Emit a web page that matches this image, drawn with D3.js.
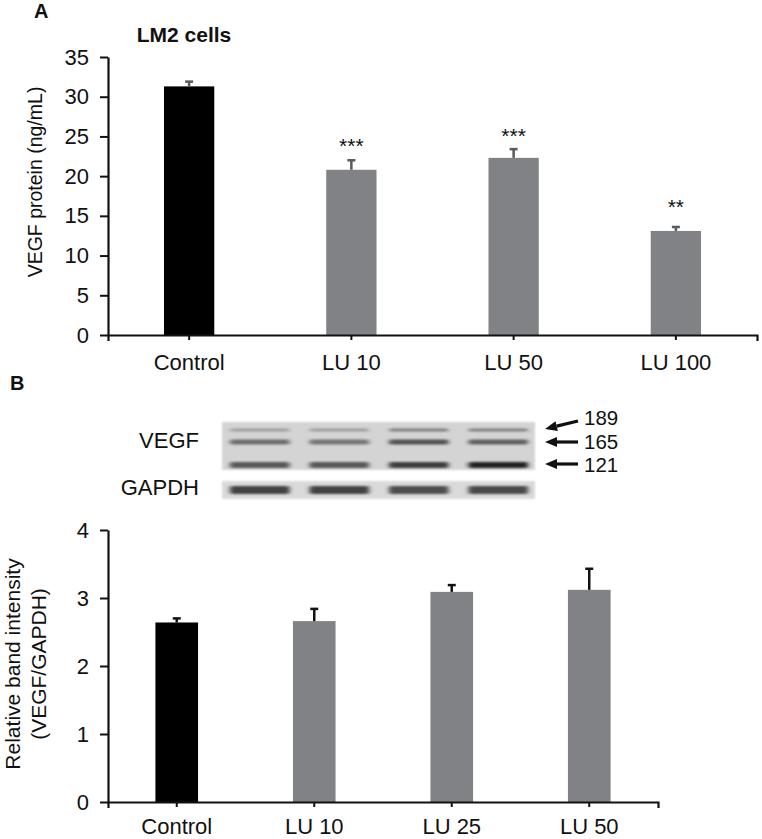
<!DOCTYPE html>
<html>
<head>
<meta charset="utf-8">
<script src="https://cdn.jsdelivr.net/npm/d3@7"></script>
<style>
  html, body { margin: 0; padding: 0; background: #fff; }
  svg { display: block; font-family: "Liberation Sans", Arial, Helvetica, sans-serif; }
</style>
</head>
<body>
<svg id="chart" width="762" height="839"></svg>
<script>
// ---------- Data (panel A) ----------
const categoriesA = ["Control", "LU 10", "LU 50", "LU 100"];
const valuesA = [31.3, 20.8, 22.3, 13.1];
const errorsA = [0.6, 1.2, 1.1, 0.5];
const sigLabelsA = ["", "***", "***", "**"];
const sigLevelA = [null, 22.9, 24.2, 15.2];   // annotation height in data units
const yTicksA = [0, 5, 10, 15, 20, 25, 30, 35];

// ---------- Data (panel B) ----------
const categoriesB = ["Control", "LU 10", "LU 25", "LU 50"];
const valuesB = [2.64, 2.66, 3.09, 3.12];
const errorsB = [0.06, 0.18, 0.10, 0.31];
const yTicksB = [0, 1, 2, 3, 4];

// ---------- Blot (band darkness per lane) ----------
const blotLanes = ["Control", "LU 10", "LU 25", "LU 50"];
const bandNames = ["189", "165", "121"];
const band189 = [0.28, 0.28, 0.45, 0.45];
const band165 = [0.55, 0.50, 0.70, 0.62];
const band121 = [0.66, 0.66, 0.80, 0.95];
const bandGAPDH = [0.78, 0.78, 0.72, 0.74];

const svg = d3.select("#chart");
const FONT = 22;
const barGray = "#808285";

function drawAxes(g, x, y, ticks, x0, xPad) {
  const yAxis = g.append("g").attr("transform", `translate(${x0},0)`)
    .call(d3.axisLeft(y).tickValues(ticks).tickFormat(d3.format("d")).tickSize(8).tickPadding(11).tickSizeOuter(0));
  yAxis.selectAll("text").attr("font-size", FONT).attr("fill", "#111");
  yAxis.selectAll("line").attr("stroke", "#111").attr("stroke-width", 2);
  yAxis.select(".domain").attr("stroke", "#111").attr("stroke-width", 2.2);
  yAxis.attr("font-family", null);

  const xAxis = g.append("g").attr("transform", `translate(0,${y(0)})`)
    .call(d3.axisBottom(x).tickSize(5).tickPadding(xPad).tickSizeOuter(6));
  xAxis.selectAll("text").attr("font-size", FONT).attr("fill", "#111");
  xAxis.selectAll("line").attr("stroke", "#111").attr("stroke-width", 2);
  xAxis.select(".domain").attr("stroke", "#111").attr("stroke-width", 2.2);
  xAxis.attr("font-family", null);
}

function drawBars(g, cats, vals, errs, x, y, errColor) {
  g.selectAll("rect.bar").data(cats).join("rect")
    .attr("class", "bar")
    .attr("x", d => x(d))
    .attr("width", x.bandwidth())
    .attr("y", (d, i) => y(vals[i]))
    .attr("height", (d, i) => y(0) - y(vals[i]))
    .attr("fill", (d, i) => i === 0 ? "#000" : barGray);
  const e = g.selectAll("g.err").data(cats).join("g").attr("class", "err");
  e.append("line")
    .attr("x1", d => x(d) + x.bandwidth() / 2).attr("x2", d => x(d) + x.bandwidth() / 2)
    .attr("y1", (d, i) => y(vals[i])).attr("y2", (d, i) => y(vals[i] + errs[i]))
    .attr("stroke", errColor).attr("stroke-width", 2.5);
  e.append("line")
    .attr("x1", d => x(d) + x.bandwidth() / 2 - 4).attr("x2", d => x(d) + x.bandwidth() / 2 + 4)
    .attr("y1", (d, i) => y(vals[i] + errs[i])).attr("y2", (d, i) => y(vals[i] + errs[i]))
    .attr("stroke", errColor).attr("stroke-width", 2.5);
}

// ---------- Panel A ----------
const xA = d3.scaleBand().domain(categoriesA).range([108, 757]).paddingInner(0.69).paddingOuter(0.345);
const yA = d3.scaleLinear().domain([0, 35]).range([335, 57]);
const gA = svg.append("g");
drawBars(gA, categoriesA, valuesA, errorsA, xA, yA, "#5a5a5c");
gA.selectAll("text.sig").data(categoriesA.filter((d, i) => sigLabelsA[i])).join("text")
  .attr("class", "sig")
  .attr("x", d => xA(d) + xA.bandwidth() / 2)
  .attr("y", d => yA(sigLevelA[categoriesA.indexOf(d)]))
  .attr("text-anchor", "middle").attr("font-size", 21).attr("fill", "#111")
  .text(d => sigLabelsA[categoriesA.indexOf(d)]);
drawAxes(gA, xA, yA, yTicksA, 108, 14);

svg.append("text").attr("x", 34).attr("y", 18).attr("font-size", 20).attr("font-weight", "bold").attr("fill", "#111").text("A");
svg.append("text").attr("x", 184).attr("y", 42).attr("text-anchor", "middle").attr("font-size", 21).attr("font-weight", "bold").attr("fill", "#111").text("LM2 cells");
svg.append("text").attr("transform", "translate(42,182) rotate(-90)").attr("text-anchor", "middle")
  .attr("font-size", 19.5).attr("fill", "#111").text("VEGF protein (ng/mL)");

// ---------- Panel B label ----------
svg.append("text").attr("x", 10).attr("y", 390).attr("font-size", 20).attr("font-weight", "bold").attr("fill", "#111").text("B");

// ---------- Blot ----------
const defs = svg.append("defs");
defs.append("filter").attr("id", "blur").attr("x", "-20%").attr("y", "-200%").attr("width", "140%").attr("height", "500%")
  .append("feGaussianBlur").attr("stdDeviation", "2.6 1.3");
defs.append("filter").attr("id", "blurSoft").attr("x", "-20%").attr("y", "-50%").attr("width", "140%").attr("height", "200%")
  .append("feGaussianBlur").attr("stdDeviation", "1.2");

const laneX = d3.scaleBand().domain(blotLanes).range([224, 534]).paddingInner(0.2).paddingOuter(0.05);
const blot = svg.append("g");
blot.append("rect").attr("x", 222).attr("y", 422).attr("width", 313).attr("height", 48).attr("fill", "#d4d4d5").attr("filter", "url(#blurSoft)");
blot.append("rect").attr("x", 222).attr("y", 481).attr("width", 313).attr("height", 18).attr("fill", "#dadadb").attr("filter", "url(#blurSoft)");

const bandRows = [
  { vals: band189, y: 430, h: 3 },
  { vals: band165, y: 442, h: 5 },
  { vals: band121, y: 465, h: 6 },
  { vals: bandGAPDH, y: 490, h: 8 }
];
const shade = d3.interpolateRgb("#d0d0d0", "#1a1a1a");
bandRows.forEach(row => {
  blot.selectAll(null).data(blotLanes).join("rect")
    .attr("x", d => laneX(d) + 2)
    .attr("width", laneX.bandwidth() - 4)
    .attr("y", row.y - row.h / 2)
    .attr("height", row.h)
    .attr("rx", 2)
    .attr("fill", (d, i) => shade(row.vals[i]))
    .attr("filter", "url(#blur)");
});

svg.append("text").attr("x", 199).attr("y", 448).attr("text-anchor", "end").attr("font-size", FONT).attr("fill", "#111").text("VEGF");
svg.append("text").attr("x", 199).attr("y", 495).attr("text-anchor", "end").attr("font-size", FONT).attr("fill", "#111").text("GAPDH");

// arrows
const arrows = [
  { label: bandNames[0], x1: 578, y1: 421, x2: 545, y2: 429, ty: 425 },
  { label: bandNames[1], x1: 578, y1: 442, x2: 545, y2: 442, ty: 449 },
  { label: bandNames[2], x1: 578, y1: 464, x2: 545, y2: 464, ty: 472 }
];
arrows.forEach(a => {
  const ang = Math.atan2(a.y2 - a.y1, a.x2 - a.x1);
  const L = 12, W = 5;
  const bx = a.x2 - L * Math.cos(ang), by = a.y2 - L * Math.sin(ang);
  const px = -Math.sin(ang) * W, py = Math.cos(ang) * W;
  svg.append("line").attr("x1", a.x1).attr("y1", a.y1).attr("x2", bx).attr("y2", by)
    .attr("stroke", "#111").attr("stroke-width", 3.2);
  svg.append("path")
    .attr("d", `M${a.x2},${a.y2} L${bx + px},${by + py} L${bx - px},${by - py} Z`)
    .attr("fill", "#111");
  svg.append("text").attr("x", 584).attr("y", a.ty).attr("font-size", 20.5).attr("fill", "#111").text(a.label);
});

// ---------- Panel B chart ----------
const xB = d3.scaleBand().domain(categoriesB).range([108, 658]).paddingInner(0.69).paddingOuter(0.345);
const yB = d3.scaleLinear().domain([0, 4]).range([802, 530]);
const gB = svg.append("g");
drawBars(gB, categoriesB, valuesB, errorsB, xB, yB, "#111");
drawAxes(gB, xB, yB, yTicksB, 108, 11);

const ylabB = svg.append("text").attr("transform", "translate(0,664) rotate(-90)").attr("text-anchor", "middle")
  .attr("font-size", 21).attr("fill", "#111");
ylabB.append("tspan").attr("x", 0).attr("y", 19.5).text("Relative band intensity");
ylabB.append("tspan").attr("x", 0).attr("y", 46).text("(VEGF/GAPDH)");
</script>
</body>
</html>
